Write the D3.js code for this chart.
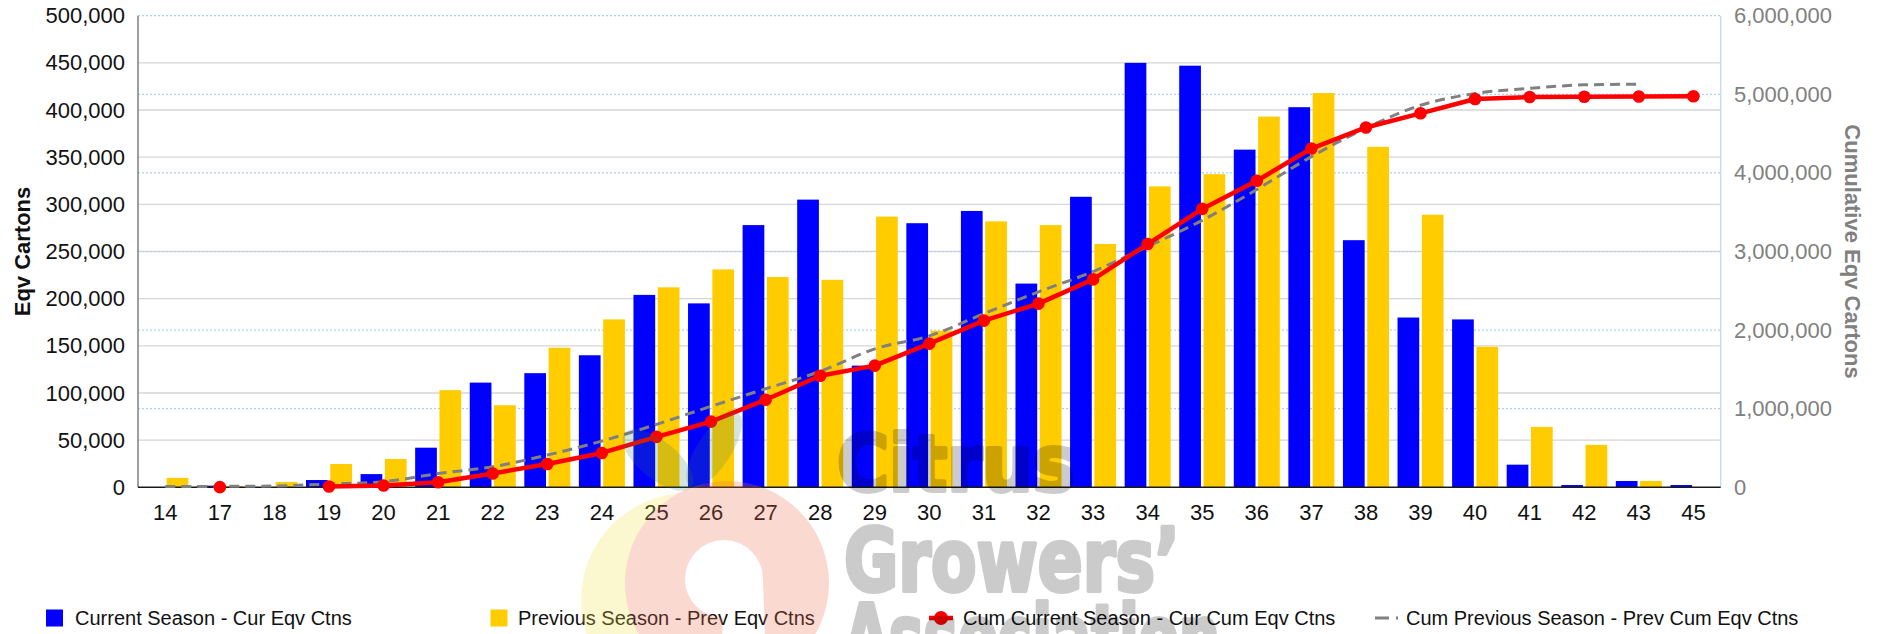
<!DOCTYPE html>
<html>
<head>
<meta charset="utf-8">
<script src="https://cdn.jsdelivr.net/npm/d3@7/dist/d3.min.js"></script>
<style>
  html, body { margin: 0; padding: 0; background: #fff; }
  svg { display: block; font-family: "Liberation Sans", Arial, sans-serif; }
</style>
</head>
<body>
<svg id="chart" width="1885" height="634"></svg>
<script>
// ---- data ----
const categories = ["14","17","18","19","20","21","22","23","24","25","26","27","28","29","30","31","32","33","34","35","36","37","38","39","40","41","42","43","45"];
const curEqv  = [null, 1700, null, 7700, 14000, 42000, 111000, 121000, 140000, 204000, 195000, 278000, 305000, 129000, 280000, 293000, 216000, 308000, 450000, 447000, 358000, 403000, 262000, 180000, 178000, 24000, 2400, 6700, 2400];
const prevEqv = [10000, 1400, 5600, 24700, 30000, 103000, 87000, 148000, 178000, 212000, 231000, 223000, 220000, 287000, 166000, 282000, 278000, 258000, 319000, 332000, 393000, 418000, 361000, 289000, 149000, 64000, 45000, 6700, null];
const cumCur  = [null, 1700, null, 9400, 23400, 65000, 176000, 297000, 437000, 641000, 836000, 1114000, 1419000, 1548000, 1828000, 2121000, 2337000, 2645000, 3095000, 3542000, 3900000, 4310000, 4578000, 4758000, 4940000, 4965000, 4968000, 4972000, 4975000];
const cumPrev = [10000, 11400, 17000, 41700, 71700, 175000, 262000, 410000, 588000, 800000, 1031000, 1254000, 1474000, 1761000, 1927000, 2209000, 2487000, 2745000, 3064000, 3396000, 3789000, 4207000, 4570000, 4860000, 5010000, 5075000, 5120000, 5128000, null];
const leftTicks  = [0, 50000, 100000, 150000, 200000, 250000, 300000, 350000, 400000, 450000, 500000];
const rightTicks = [0, 1000000, 2000000, 3000000, 4000000, 5000000, 6000000];
const legendLabels = ["Current Season - Cur Eqv Ctns", "Previous Season - Prev Eqv Ctns", "Cum Current Season - Cur Cum Eqv Ctns", "Cum Previous Season - Prev Cum Eqv Ctns"];
const leftTitle = "Eqv Cartons";
const rightTitle = "Cumulative Eqv Cartons";

// ---- layout ----
const svg = d3.select("#chart");
const P = { left: 138, right: 1720.7, top: 15.7, bottom: 487.3 };
const BLUE = "#0000ff", YELLOW = "#ffcc00", RED = "#ff0000", GRAY = "#808080";

const x = d3.scaleBand().domain(categories).range([P.left, P.right]);
const xs = d3.scaleBand().domain(["cur", "prev"]).range([0, x.bandwidth()]).paddingInner(0.107).paddingOuter(0.176);
const yL = d3.scaleLinear().domain([0, 500000]).range([P.bottom, P.top]);
const yR = d3.scaleLinear().domain([0, 6000000]).range([P.bottom, P.top]);
const fmt = d3.format(",");

// gridlines (left: solid gray)
svg.append("g").selectAll("line")
  .data(leftTicks.filter(t => t > 0 && t < 500000))
  .join("line")
  .attr("x1", P.left).attr("x2", P.right)
  .attr("y1", d => yL(d)).attr("y2", d => yL(d))
  .attr("stroke", "#d6d6d6").attr("stroke-width", 1.3);
// gridlines (right: dotted blue)
svg.append("g").selectAll("line")
  .data(rightTicks.filter(t => t > 0))
  .join("line")
  .attr("x1", P.left).attr("x2", P.right)
  .attr("y1", d => yR(d)).attr("y2", d => yR(d))
  .attr("stroke", "#a9d1f5").attr("stroke-width", 1.2).attr("stroke-dasharray", "2,2");

// bars
const barData = [];
categories.forEach((c, i) => {
  if (curEqv[i] != null) barData.push({ c, k: "cur", v: curEqv[i] });
  if (prevEqv[i] != null) barData.push({ c, k: "prev", v: prevEqv[i] });
});
svg.append("g").selectAll("rect")
  .data(barData)
  .join("rect")
  .attr("x", d => x(d.c) + xs(d.k))
  .attr("width", xs.bandwidth())
  .attr("y", d => yL(d.v))
  .attr("height", d => P.bottom - yL(d.v))
  .attr("fill", d => d.k === "cur" ? BLUE : YELLOW);

// axis lines
svg.append("line").attr("x1", P.left).attr("x2", P.left).attr("y1", P.top).attr("y2", P.bottom)
  .attr("stroke", "#7f7f7f").attr("stroke-width", 1.5);
svg.append("line").attr("x1", P.right).attr("x2", P.right).attr("y1", P.top).attr("y2", P.bottom)
  .attr("stroke", "#c6def4").attr("stroke-width", 1.5);
svg.append("line").attr("x1", P.left).attr("x2", P.right).attr("y1", P.bottom).attr("y2", P.bottom)
  .attr("stroke", "#1a1a1a").attr("stroke-width", 1.5);

// cumulative previous (dashed, smooth)
const cx = c => x(c) + x.bandwidth() / 2;
const prevPts = categories.map((c, i) => ({ c, v: cumPrev[i] }));
svg.append("path")
  .datum(prevPts)
  .attr("fill", "none").attr("stroke", GRAY).attr("stroke-width", 3)
  .attr("stroke-dasharray", "10,6")
  .attr("d", d3.line().defined(d => d.v != null).curve(d3.curveMonotoneX).x(d => cx(d.c)).y(d => yR(d.v)));

// cumulative current (red line + markers)
const curPts = categories.map((c, i) => ({ c, v: cumCur[i] }));
svg.append("path")
  .datum(curPts)
  .attr("fill", "none").attr("stroke", RED).attr("stroke-width", 4.5).attr("stroke-linejoin", "round")
  .attr("d", d3.line().defined(d => d.v != null).x(d => cx(d.c)).y(d => yR(d.v)));
svg.append("g").selectAll("circle")
  .data(curPts.filter(d => d.v != null))
  .join("circle")
  .attr("cx", d => cx(d.c)).attr("cy", d => yR(d.v)).attr("r", 6.3).attr("fill", RED);

// axes (labels)
const gL = svg.append("g").attr("transform", `translate(${P.left},0)`)
  .call(d3.axisLeft(yL).tickValues(leftTicks).tickFormat(fmt).tickSize(0).tickPadding(13));
gL.select(".domain").remove();
gL.selectAll("text").attr("font-size", 22).attr("fill", "#111").attr("font-family", "Liberation Sans, Arial, sans-serif");

const gR = svg.append("g").attr("transform", `translate(${P.right},0)`)
  .call(d3.axisRight(yR).tickValues(rightTicks).tickFormat(fmt).tickSize(0).tickPadding(13.3));
gR.select(".domain").remove();
gR.selectAll("text").attr("font-size", 22).attr("fill", "#808080").attr("font-family", "Liberation Sans, Arial, sans-serif");

const gB = svg.append("g").attr("transform", `translate(0,${P.bottom})`)
  .call(d3.axisBottom(x).tickSize(0).tickPadding(17));
gB.select(".domain").remove();
gB.selectAll("text").attr("font-size", 22).attr("fill", "#111").attr("font-family", "Liberation Sans, Arial, sans-serif");

// axis titles
const midY = (P.top + P.bottom) / 2;
svg.append("text").text(leftTitle)
  .attr("transform", `translate(29.5,${midY}) rotate(-90)`)
  .attr("text-anchor", "middle").attr("font-size", 22).attr("font-weight", "bold").attr("fill", "#111");
svg.append("text").text(rightTitle)
  .attr("transform", `translate(1844.5,${midY}) rotate(90)`)
  .attr("text-anchor", "middle").attr("font-size", 22).attr("font-weight", "bold").attr("fill", "#808080");

// legend
const lg = svg.append("g").attr("font-size", 20).attr("fill", "#111");
const legY = 618;
lg.append("rect").attr("x", 46).attr("y", legY - 8.5).attr("width", 17).attr("height", 17).attr("fill", BLUE);
lg.append("text").attr("x", 75).attr("y", legY + 7).text(legendLabels[0]);
lg.append("rect").attr("x", 490.5).attr("y", legY - 8.5).attr("width", 17).attr("height", 17).attr("fill", YELLOW);
lg.append("text").attr("x", 518).attr("y", legY + 7).text(legendLabels[1]);
lg.append("line").attr("x1", 929).attr("x2", 953).attr("y1", legY).attr("y2", legY).attr("stroke", RED).attr("stroke-width", 4.5);
lg.append("circle").attr("cx", 941).attr("cy", legY).attr("r", 7).attr("fill", RED);
lg.append("text").attr("x", 963).attr("y", legY + 7).text(legendLabels[2]);
lg.append("line").attr("x1", 1375).attr("x2", 1398).attr("y1", legY).attr("y2", legY).attr("stroke", GRAY).attr("stroke-width", 3).attr("stroke-dasharray", "14,7");
lg.append("text").attr("x", 1406).attr("y", legY + 7).text(legendLabels[3]);

// ---- watermark logo (decorative) ----
const defs = svg.append("defs");
const mask = defs.append("mask").attr("id", "logoHole").attr("maskUnits", "userSpaceOnUse")
  .attr("x", 0).attr("y", 0).attr("width", 1885).attr("height", 634);
mask.append("rect").attr("x", 0).attr("y", 0).attr("width", 1885).attr("height", 634).attr("fill", "#fff");
mask.append("circle").attr("cx", 724).attr("cy", 579).attr("r", 39).attr("fill", "#000");
mask.append("path").attr("d", "M724,579 L763,579 L765,640 L722,640 Z").attr("fill", "#000");

const logo = svg.append("g").attr("pointer-events", "none");
const fruit = logo.append("g").attr("opacity", 0.26).attr("mask", "url(#logoHole)");
fruit.append("circle").attr("cx", 688).attr("cy", 600).attr("r", 107).attr("fill", "#f2e24a");
fruit.append("circle").attr("cx", 727).attr("cy", 583).attr("r", 102).attr("fill", "#ef6e50");
logo.append("ellipse").attr("cx", 0).attr("cy", 0).attr("rx", 43).attr("ry", 19)
  .attr("transform", "translate(658,460) rotate(39)").attr("fill", "#2f7a5a").attr("opacity", 0.2);
logo.append("ellipse").attr("cx", 0).attr("cy", 0).attr("rx", 44).attr("ry", 17)
  .attr("transform", "translate(714,450) rotate(-57)").attr("fill", "#2f7a5a").attr("opacity", 0.2);

const wm = logo.append("g").attr("fill", "#000").attr("stroke", "#000").attr("stroke-width", 4)
  .attr("stroke-linejoin", "round").attr("opacity", 0.2)
  .attr("font-family", "'Liberation Sans Narrow', 'DejaVu Sans Condensed', 'Arial Narrow', sans-serif")
  .attr("font-weight", "bold");
wm.append("text").attr("x", 837).attr("y", 491).attr("font-size", 78)
  .attr("textLength", 238).attr("lengthAdjust", "spacingAndGlyphs").text("Citrus");
wm.append("text").attr("x", 844).attr("y", 591).attr("font-size", 88)
  .attr("textLength", 336).attr("lengthAdjust", "spacingAndGlyphs").text("Growers\u2019");
wm.append("text").attr("x", 844).attr("y", 667).attr("font-size", 88)
  .attr("textLength", 376).attr("lengthAdjust", "spacingAndGlyphs").text("Association");
</script>
</body>
</html>
